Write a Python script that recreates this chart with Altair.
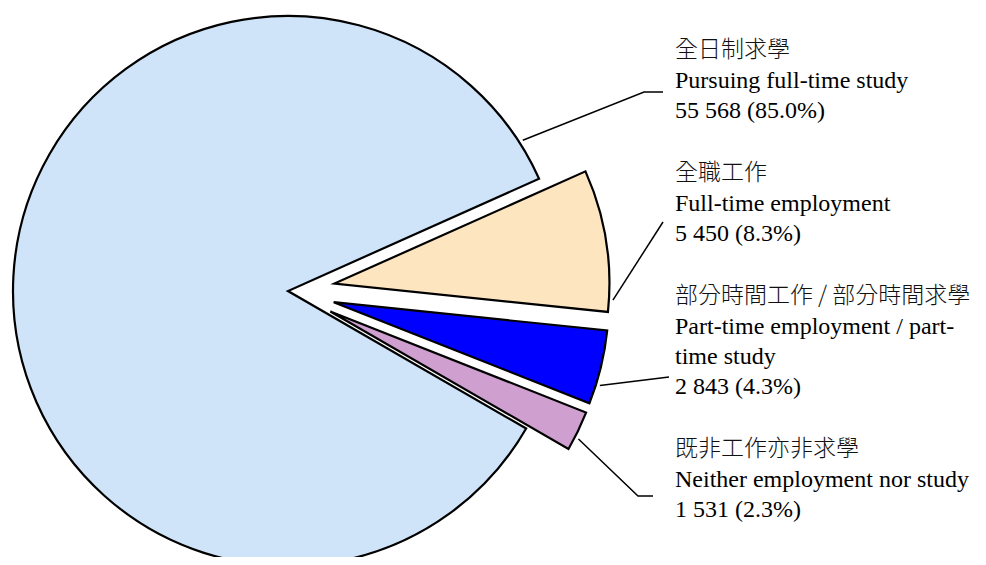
import math
import altair as alt
import pandas as pd

# ---------------- data ----------------
labels_zh = ["全日制求學", "全職工作", "部分時間工作 / 部分時間求學", "既非工作亦非求學"]
labels_en = [["Pursuing full-time study"],
             ["Full-time employment"],
             ["Part-time employment / part-", "time study"],
             ["Neither employment nor study"]]
values = [55568, 5450, 2843, 1531]

# ---------------- styles / layout ----------------
colors = ["#cfe4f8", "#fde5c0", "#0000ff", "#cf9fcf"]
W, H = 970, 549
CX, CY = 280, 283          # pie centre (chart px)
R = 275                    # radius
EXPLODE = 47               # explode distance of small slices
START_DEG = 120            # where the first slice starts (clockwise from 12 o'clock)
LABEL_X = 667
LINE_STEP = 30
BLOCK_GAP = 33
FIRST_BASELINE = 50
LEADER_ANGLE = [57.3, 93.4, 107.4, 117.2]            # where each leader touches its slice
LEADER_ELBOW = [(636, 84), None, None, (630, 488)]
LEADER_END = [(655, 84), (655, 214), (661, 369), (645, 488)]

total = sum(values)
keys = [" ".join(e) for e in labels_en]

slices = pd.DataFrame({"cat": keys, "value": values, "idx": list(range(len(values)))})

arcs = (
    alt.Chart(slices)
    .transform_window(cum="sum(value)", sort=[alt.SortField("idx")])
    .transform_joinaggregate(total="sum(value)")
    .transform_calculate(
        start=f"{math.radians(START_DEG)} + 2*PI*(datum.cum - datum.value)/datum.total",
        end=f"{math.radians(START_DEG)} + 2*PI*datum.cum/datum.total",
    )
    .transform_calculate(
        mid="(datum.start + datum.end)/2",
        ex=f"datum.idx == 0 ? 0 : {EXPLODE}",
    )
    .transform_calculate(
        cx=f"{CX} + datum.ex*sin(datum.mid)",
        cy=f"{CY} - datum.ex*cos(datum.mid)",
    )
    .mark_arc(radius=R, stroke="black", strokeWidth=2.2, strokeJoin="miter")
    .encode(
        theta=alt.Theta("start:Q", scale=None),
        theta2="end:Q",
        x=alt.X("cx:Q", scale=None),
        y=alt.Y("cy:Q", scale=None),
        color=alt.Color("cat:N", scale=alt.Scale(domain=keys, range=colors), legend=None),
    )
)

# ---------- leader lines (start on each slice's arc) ----------
rows = []
cum = 0
for i, v in enumerate(values):
    a0 = math.radians(START_DEG) + 2 * math.pi * cum / total
    cum += v
    a1 = math.radians(START_DEG) + 2 * math.pi * cum / total
    mid = (a0 + a1) / 2
    ex = 0 if i == 0 else EXPLODE
    cx = CX + ex * math.sin(mid)
    cy = CY - ex * math.cos(mid)
    a = math.radians(LEADER_ANGLE[i])
    pts = [(cx + (R + 4) * math.sin(a), cy - (R + 4) * math.cos(a))]
    if LEADER_ELBOW[i]:
        pts.append(LEADER_ELBOW[i])
    pts.append(LEADER_END[i])
    for k, (px, py) in enumerate(pts):
        rows.append({"cat": keys[i], "k": k, "px": px, "py": py})
leaders = pd.DataFrame(rows)

leader_lines = (
    alt.Chart(leaders)
    .mark_line(color="black", strokeWidth=1.5)
    .encode(
        x=alt.X("px:Q", scale=None),
        y=alt.Y("py:Q", scale=None),
        detail="cat:N",
        order="k:Q",
    )
)

# ---------- label text ----------
trows = []
y = FIRST_BASELINE
for i, v in enumerate(values):
    trows.append({"t": labels_zh[i], "kind": "zh", "ty": y})
    y += LINE_STEP
    for line in labels_en[i]:
        trows.append({"t": line, "kind": "en", "ty": y})
        y += LINE_STEP
    num = f"{v:,}".replace(",", " ")
    pct = f"{100 * v / total:.1f}%"
    trows.append({"t": f"{num} ({pct})", "kind": "en", "ty": y})
    y += LINE_STEP + BLOCK_GAP
tdf = pd.DataFrame(trows)

text_en = (
    alt.Chart(tdf)
    .transform_filter("datum.kind == 'en'")
    .mark_text(align="left", baseline="alphabetic", font="Liberation Serif", fontSize=24, color="black")
    .encode(x=alt.value(LABEL_X), y=alt.Y("ty:Q", scale=None), text="t:N")
)
text_zh = (
    alt.Chart(tdf)
    .transform_filter("datum.kind == 'zh'")
    .mark_text(align="left", baseline="alphabetic", font="Noto Sans CJK TC", fontSize=23,
               fontWeight=300, color="#111111", dy=-1)
    .encode(x=alt.value(LABEL_X), y=alt.Y("ty:Q", scale=None), text="t:N")
)

chart = (
    alt.layer(arcs, leader_lines, text_en, text_zh)
    .properties(width=W, height=H, autosize=alt.AutoSizeParams(type="none"), padding=0)
    .configure_view(stroke=None)
)

chart.save("out.html", embed_options={"renderer": "svg", "actions": False})
